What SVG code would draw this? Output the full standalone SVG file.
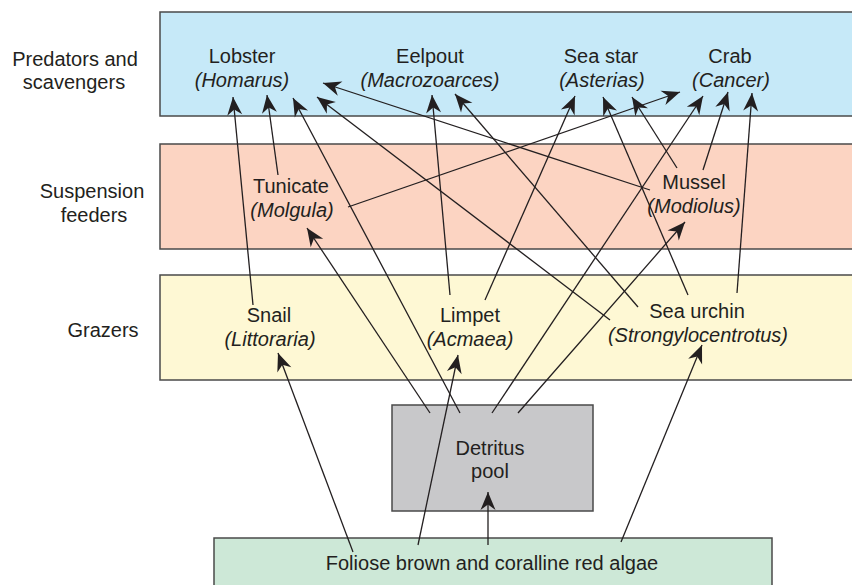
<svg xmlns="http://www.w3.org/2000/svg" width="852" height="585" viewBox="0 0 852 585">
<style>
text{font-family:"Liberation Sans",Arial,sans-serif;font-size:20px;fill:#231f20;text-anchor:middle}
.i{font-style:italic}
.band{stroke:#4a4a4a;stroke-width:1.5}
.c line{stroke:#231f20;stroke-width:1.3;fill:none}
.a{marker-end:url(#ah)}
</style>
<defs>
<marker id="ah" markerUnits="userSpaceOnUse" viewBox="-20 -9 22 18" refX="0" refY="0" markerWidth="22" markerHeight="18" orient="auto">
<path d="M0,0 L-18,-7.5 L-12.5,0 L-18,7.5 Z" fill="#231f20"/>
</marker>
</defs>
<rect width="852" height="585" fill="#fff"/>
<g id="band-predators"><rect class="band" x="160" y="12" width="720" height="104" fill="#c6e9f8"/></g>
<g id="band-suspension"><rect class="band" x="160" y="144" width="720" height="105" fill="#fcd4c2"/></g>
<g id="band-grazers"><rect class="band" x="160" y="275" width="720" height="105" fill="#fef8d4"/></g>
<g id="label-predators"><text x="75" y="66">Predators and</text><text x="74" y="89">scavengers</text></g>
<g id="label-suspension"><text x="92" y="198">Suspension</text><text x="94" y="222">feeders</text></g>
<g id="label-grazers"><text x="103" y="337">Grazers</text></g>
<g id="detritus"><rect x="392" y="405" width="201" height="106" fill="#c8c8ca" stroke="#4a4a4a" stroke-width="1.5"/><text x="490" y="455">Detritus</text><text x="490" y="478">pool</text></g>
<g id="algae"><rect x="214" y="538" width="558" height="60" fill="#cde8d7" stroke="#4a4a4a" stroke-width="1.5"/><text x="492" y="570">Foliose brown and coralline red algae</text></g>
<g id="lobster"><text x="242" y="63">Lobster</text><text class="i" x="242" y="87">(Homarus)</text></g>
<g id="eelpout"><text x="430" y="63">Eelpout</text><text class="i" x="430" y="87">(Macrozoarces)</text></g>
<g id="seastar"><text x="601" y="63">Sea star</text><text class="i" x="602" y="87">(Asterias)</text></g>
<g id="crab"><text x="730" y="63">Crab</text><text class="i" x="731" y="87">(Cancer)</text></g>
<g id="tunicate"><text x="291" y="193">Tunicate</text><text class="i" x="292" y="217">(Molgula)</text></g>
<g id="mussel"><text x="694" y="189">Mussel</text><text class="i" x="694" y="213">(Modiolus)</text></g>
<g id="snail"><text x="269" y="322">Snail</text><text class="i" x="270" y="346">(Littoraria)</text></g>
<g id="limpet"><text x="470" y="322">Limpet</text><text class="i" x="470" y="346">(Acmaea)</text></g>
<g id="seaurchin"><text x="697" y="318">Sea urchin</text><text class="i" x="698" y="342">(Strongylocentrotus)</text></g>
<g id="connectors" class="c">
<line class="a" x1="253" y1="305" x2="233" y2="97"/>
<line class="a" x1="278" y1="175" x2="267" y2="95"/>
<line class="a" x1="460" y1="413" x2="293" y2="98"/>
<line class="a" x1="610" y1="320" x2="317" y2="97"/>
<line class="a" x1="650" y1="190" x2="323" y2="83"/>
<line class="a" x1="450" y1="295" x2="432" y2="95"/>
<line class="a" x1="638" y1="307" x2="455" y2="94"/>
<line class="a" x1="485" y1="300" x2="575" y2="96"/>
<line class="a" x1="688" y1="295" x2="603" y2="97"/>
<line class="a" x1="677" y1="168" x2="632" y2="97"/>
<line class="a" x1="348" y1="207" x2="680" y2="92"/>
<line class="a" x1="492" y1="413" x2="703" y2="96"/>
<line class="a" x1="703" y1="170" x2="728" y2="92"/>
<line class="a" x1="737" y1="293" x2="752" y2="93"/>
<line class="a" x1="430" y1="413" x2="307" y2="228"/>
<line class="a" x1="518" y1="413" x2="685" y2="222"/>
<line class="a" x1="353" y1="552" x2="278" y2="353"/>
<line class="a" x1="418" y1="545" x2="458" y2="355"/>
<line class="a" x1="488" y1="545" x2="488" y2="492"/>
<line class="a" x1="621" y1="542" x2="702" y2="345"/>
</g>
</svg>
